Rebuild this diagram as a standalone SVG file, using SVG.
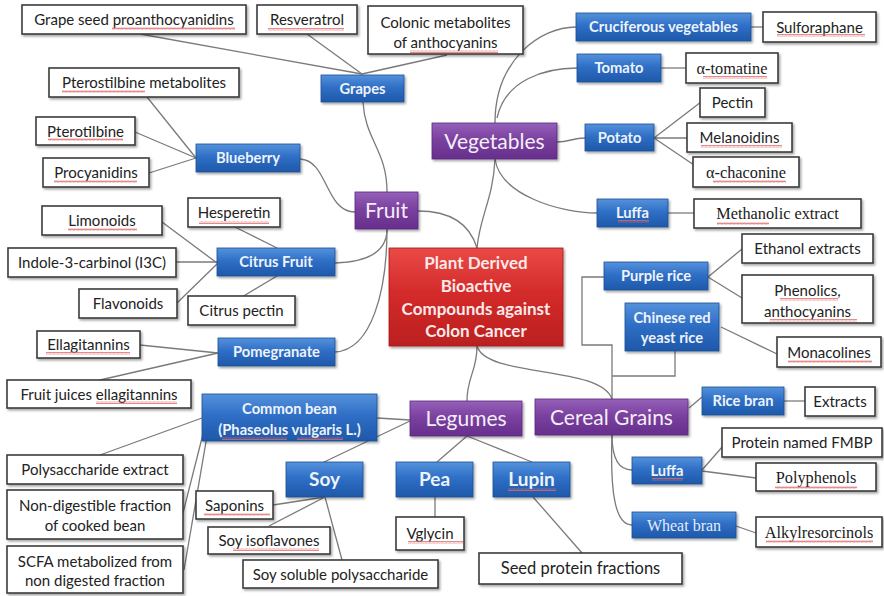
<svg xmlns="http://www.w3.org/2000/svg" width="884" height="596" viewBox="0 0 884 596">
  <defs>
    <style>
      .leaf rect { fill: #ffffff; stroke: #3c3c3c; stroke-width: 1.6; filter: url(#shadow); }
      .leaf text { font-family: Lato, "Liberation Sans", sans-serif; font-size: 15px; fill: #222222; text-anchor: middle; }
      .leaf text.serif { font-family: "Liberation Serif", "DejaVu Serif", serif; font-size: 16.3px; fill: #1a1a1a; }
      .sub rect { fill: url(#blueGrad); stroke: #1d4f96; stroke-width: 0.8; filter: url(#shadow); }
      .sub text { font-family: Lato, "Liberation Sans", sans-serif; font-size: 14.7px; font-weight: bold; fill: #eef3fb; text-anchor: middle; }
      .sub text.big { font-size: 19px; }
      .sub text.serif { font-family: "Liberation Serif", "DejaVu Serif", serif; font-weight: normal; font-size: 16px; fill: #e4ecf8; }
      .cat rect { fill: url(#purpleGrad); stroke: #5a2a7e; stroke-width: 0.8; filter: url(#shadow); }
      .cat text { font-family: Lato, "Liberation Sans", sans-serif; font-size: 21px; fill: #f4eef8; text-anchor: middle; }
      .hub rect { fill: url(#redGrad); stroke: #a51818; stroke-width: 0.8; filter: url(#shadow); }
      .hub text { font-family: Lato, "Liberation Sans", sans-serif; font-size: 17px; font-weight: bold; fill: #fbeaea; text-anchor: middle; }
      #connectors path { fill: none; stroke: #7a7a7a; stroke-width: 1.3; }
      .squiggle { fill: url(#wave); }
    </style>
    <linearGradient id="blueGrad" x1="0" y1="0" x2="0" y2="1">
      <stop offset="0" stop-color="#5592dc"/>
      <stop offset="0.45" stop-color="#2f6fc6"/>
      <stop offset="1" stop-color="#1e58a9"/>
    </linearGradient>
    <linearGradient id="purpleGrad" x1="0" y1="0" x2="0" y2="1">
      <stop offset="0" stop-color="#9561b9"/>
      <stop offset="0.45" stop-color="#7b419f"/>
      <stop offset="1" stop-color="#662f8c"/>
    </linearGradient>
    <linearGradient id="redGrad" x1="0" y1="0" x2="0" y2="1">
      <stop offset="0" stop-color="#ea4a46"/>
      <stop offset="0.45" stop-color="#d42b2a"/>
      <stop offset="1" stop-color="#bb1f1f"/>
    </linearGradient>
    <filter id="shadow" x="-10%" y="-20%" width="125%" height="150%">
      <feDropShadow dx="1.5" dy="1.8" stdDeviation="1.2" flood-color="#000000" flood-opacity="0.35"/>
    </filter>
    <pattern id="wave" width="4" height="3" patternUnits="userSpaceOnUse">
      <path d="M0,2.5 L1,0.6 L2,2.5 L3,0.6 L4,2.5" fill="none" stroke="#e06a6a" stroke-width="0.8"/>
    </pattern>
  </defs>

  <rect width="884" height="596" fill="#ffffff"/>

  <!-- connectors -->
  <g id="connectors">
    <!-- grapes -->
    <path d="M140,34 L362,74"/>
    <path d="M307,34 L362,74"/>
    <path d="M447,55 L362,74"/>
    <path d="M363,102 C365,140 387,150 387,192"/>
    <!-- blueberry -->
    <path d="M147,97 L196,158"/>
    <path d="M135,132 L196,158"/>
    <path d="M149,173 L196,158"/>
    <path d="M300,159 C328,160 325,212 355,212"/>
    <!-- citrus fruit -->
    <path d="M162,222 L217,263"/>
    <path d="M235,227 L277,248"/>
    <path d="M176,262 L217,262"/>
    <path d="M177,303 L217,264"/>
    <path d="M242,297 L277,276"/>
    <path d="M335,263 C370,262 387,250 387,229"/>
    <!-- pomegranate -->
    <path d="M140,345 L218,353"/>
    <path d="M100,380 L218,353"/>
    <path d="M335,352 C372,350 387,290 387,229"/>
    <!-- fruit / vegetables to hub -->
    <path d="M418,211 C452,211 470,225 477,248"/>
    <path d="M495,159 C493,200 480,215 477,248"/>
    <!-- vegetables -->
    <path d="M495,123 C495,60 540,27 576,27"/>
    <path d="M497,118 C505,80 545,68 577,68"/>
    <path d="M557,142 C570,142 572,138 585,138"/>
    <path d="M495,159 C500,195 560,213 597,213"/>
    <path d="M751,27 L763,27"/>
    <path d="M661,68 L686,68"/>
    <path d="M654,138 L701,102"/>
    <path d="M654,138 L687,138"/>
    <path d="M654,138 L697,167"/>
    <path d="M668,213 L694,213"/>
    <!-- hub to legumes / cereal grains -->
    <path d="M477,346 C477,372 467,376 467,401"/>
    <path d="M477,346 C486,378 600,365 612,399"/>
    <!-- cereal grains -->
    <path d="M604,277 H582 V345 H612 V399"/>
    <path d="M675,351 V376 H612"/>
    <path d="M708,277 L742,249"/>
    <path d="M708,277 L742,298"/>
    <path d="M721,327 L777,354"/>
    <path d="M689,408 L702,397"/>
    <path d="M784,401 L805,401"/>
    <path d="M612,435 C612,460 620,470 632,470"/>
    <path d="M612,435 C610,492 615,525 632,525"/>
    <path d="M702,470 L723,446"/>
    <path d="M702,471 L756,478"/>
    <path d="M736,526 L756,533"/>
    <!-- legumes -->
    <path d="M377,418 L410,420"/>
    <path d="M410,421 L322,463"/>
    <path d="M467,436 L437,462"/>
    <path d="M467,436 L532,462"/>
    <path d="M435,497 L435,517"/>
    <path d="M533,497 L582,553"/>
    <!-- common bean -->
    <path d="M202,418 L100,455"/>
    <path d="M204,430 L183,513"/>
    <path d="M207,436 L184,570"/>
    <!-- soy -->
    <path d="M325,497 L273,505"/>
    <path d="M325,497 L269,526"/>
    <path d="M325,497 L342,560"/>
  </g>

  <!-- central topic -->
  <g id="hub" class="hub">
    <rect x="389" y="248" width="174" height="98"/>
    <text x="476" y="269">Plant Derived</text>
    <text x="476" y="292">Bioactive</text>
    <text x="476" y="315">Compounds against</text>
    <text x="476" y="337">Colon Cancer</text>
  </g>

  <!-- categories -->
  <g id="fruit" class="cat"><rect x="355" y="192" width="63" height="37"/><text x="386.5" y="218">Fruit</text></g>
  <g id="vegetables" class="cat"><rect x="432" y="123" width="125" height="36"/><text x="494.5" y="148.5">Vegetables</text></g>
  <g id="legumes" class="cat"><rect x="410" y="401" width="112" height="35"/><text x="466" y="426">Legumes</text></g>
  <g id="cereal-grains" class="cat"><rect x="535" y="399" width="153" height="36"/><text x="611.5" y="424.5">Cereal Grains</text></g>

  <!-- fruit sources -->
  <g id="grapes" class="sub"><rect x="321" y="75" width="83" height="27"/><text x="362.5" y="93.5">Grapes</text></g>
  <g id="blueberry" class="sub"><rect x="196" y="144" width="104" height="28"/><text x="248" y="163">Blueberry</text></g>
  <g id="citrus-fruit" class="sub"><rect x="217" y="248" width="118" height="28"/><text x="276" y="267">Citrus Fruit</text></g>
  <g id="pomegranate" class="sub"><rect x="218" y="338" width="117" height="28"/><text x="276.5" y="357">Pomegranate</text></g>

  <!-- vegetable sources -->
  <g id="cruciferous" class="sub"><rect x="576" y="13" width="175" height="28"/><text x="663.5" y="32">Cruciferous vegetables</text></g>
  <g id="tomato" class="sub"><rect x="577" y="54" width="84" height="28"/><text x="619" y="73">Tomato</text></g>
  <g id="potato" class="sub"><rect x="585" y="124" width="69" height="27"/><text x="619.5" y="142.5">Potato</text></g>
  <g id="luffa-veg" class="sub"><rect x="597" y="199" width="71" height="28"/><text x="632.5" y="218">Luffa</text></g>

  <!-- cereal sources -->
  <g id="purple-rice" class="sub"><rect x="604" y="262" width="104" height="28"/><text x="656" y="281">Purple rice</text></g>
  <g id="red-yeast-rice" class="sub"><rect x="625" y="303" width="94" height="48"/><text x="672" y="323">Chinese red</text><text x="672" y="343">yeast rice</text></g>
  <g id="rice-bran" class="sub"><rect x="702" y="387" width="82" height="28"/><text x="743" y="406">Rice bran</text></g>
  <g id="luffa-cereal" class="sub"><rect x="632" y="457" width="70" height="27"/><text x="667" y="475.5">Luffa</text></g>
  <g id="wheat-bran" class="sub"><rect x="632" y="512" width="104" height="26"/><text class="serif" x="684" y="530.5">Wheat bran</text></g>

  <!-- legume sources -->
  <g id="common-bean" class="sub"><rect x="202" y="394" width="175" height="47"/><text x="289.5" y="414">Common bean</text><text x="289.5" y="435">(Phaseolus vulgaris L.)</text></g>
  <g id="soy" class="sub"><rect x="286" y="462" width="77" height="35"/><text class="big" x="324.5" y="486">Soy</text></g>
  <g id="pea" class="sub"><rect x="396" y="462" width="77" height="35"/><text class="big" x="434.5" y="486">Pea</text></g>
  <g id="lupin" class="sub"><rect x="493" y="462" width="77" height="35"/><text class="big" x="531.5" y="486">Lupin</text></g>

  <!-- compounds: fruit -->
  <g id="grape-seed" class="leaf"><rect x="22" y="5" width="224" height="29"/><text x="134" y="25">Grape seed proanthocyanidins</text></g>
  <g id="resveratrol" class="leaf"><rect x="257" y="5" width="100" height="29"/><text x="307" y="25">Resveratrol</text></g>
  <g id="colonic" class="leaf"><rect x="368" y="6" width="155" height="48"/><text x="445.5" y="28">Colonic metabolites</text><text x="445.5" y="48">of anthocyanins</text></g>
  <g id="pterostilbine-metabolites" class="leaf"><rect x="49" y="68" width="190" height="29"/><text x="144" y="88">Pterostilbine metabolites</text></g>
  <g id="pterotilbine" class="leaf"><rect x="36" y="117" width="99" height="28"/><text x="85.5" y="136.5">Pterotilbine</text></g>
  <g id="procyanidins" class="leaf"><rect x="43" y="158" width="106" height="29"/><text x="96" y="178">Procyanidins</text></g>
  <g id="limonoids" class="leaf"><rect x="42" y="206" width="120" height="29"/><text x="102" y="226">Limonoids</text></g>
  <g id="hesperetin" class="leaf"><rect x="188" y="198" width="92" height="29"/><text x="234" y="218">Hesperetin</text></g>
  <g id="indole" class="leaf"><rect x="8" y="248" width="168" height="29"/><text x="92" y="268">Indole-3-carbinol (I3C)</text></g>
  <g id="flavonoids" class="leaf"><rect x="79" y="289" width="98" height="29"/><text x="128" y="309">Flavonoids</text></g>
  <g id="citrus-pectin" class="leaf"><rect x="188" y="296" width="107" height="29"/><text x="241.5" y="316">Citrus pectin</text></g>
  <g id="ellagitannins" class="leaf"><rect x="37" y="331" width="103" height="27"/><text x="88.5" y="350">Ellagitannins</text></g>
  <g id="fruit-juices" class="leaf"><rect x="7" y="380" width="184" height="28"/><text x="99" y="399.5">Fruit juices ellagitannins</text></g>

  <!-- compounds: legumes -->
  <g id="polysaccharide-extract" class="leaf"><rect x="7" y="455" width="176" height="29"/><text x="95" y="475">Polysaccharide extract</text></g>
  <g id="non-digestible" class="leaf"><rect x="7" y="490" width="176" height="49"/><text x="95" y="511">Non-digestible fraction</text><text x="95" y="531">of cooked bean</text></g>
  <g id="scfa" class="leaf"><rect x="7" y="546" width="176" height="47"/><text x="95" y="567">SCFA metabolized from</text><text x="95" y="586">non digested fraction</text></g>
  <g id="saponins" class="leaf"><rect x="196" y="491" width="77" height="28"/><text x="234.5" y="510.5">Saponins</text></g>
  <g id="soy-isoflavones" class="leaf"><rect x="208" y="527" width="122" height="27"/><text x="269" y="546">Soy isoflavones</text></g>
  <g id="soy-polysaccharide" class="leaf"><rect x="243" y="560" width="195" height="28"/><text x="340.5" y="579.5">Soy soluble polysaccharide</text></g>
  <g id="vglycin" class="leaf"><rect x="396" y="517" width="68" height="33"/><text x="430" y="539">Vglycin</text></g>
  <g id="seed-protein" class="leaf"><rect x="479" y="553" width="203" height="31"/><text x="580.5" y="574" style="font-size:16.5px">Seed protein fractions</text></g>

  <!-- compounds: vegetables -->
  <g id="sulforaphane" class="leaf"><rect x="763" y="12" width="113" height="30"/><text x="819.5" y="32.5">Sulforaphane</text></g>
  <g id="tomatine" class="leaf"><rect x="686" y="53" width="92" height="30"/><text class="serif" x="732" y="73.5">α-tomatine</text></g>
  <g id="pectin" class="leaf"><rect x="700" y="88" width="65" height="29"/><text x="732.5" y="108">Pectin</text></g>
  <g id="melanoidins" class="leaf"><rect x="687" y="123" width="105" height="29"/><text x="739.5" y="143">Melanoidins</text></g>
  <g id="chaconine" class="leaf"><rect x="693" y="157" width="106" height="30"/><text class="serif" x="746" y="177.5">α-chaconine</text></g>
  <g id="methanolic" class="leaf"><rect x="694" y="199" width="167" height="29"/><text class="serif" x="777.5" y="219">Methanolic extract</text></g>

  <!-- compounds: cereal grains -->
  <g id="ethanol-extracts" class="leaf"><rect x="742" y="234" width="131" height="29"/><text x="807.5" y="254">Ethanol extracts</text></g>
  <g id="phenolics" class="leaf"><rect x="742" y="275" width="131" height="48"/><text x="807.5" y="296">Phenolics,</text><text x="807.5" y="317">anthocyanins</text></g>
  <g id="monacolines" class="leaf"><rect x="777" y="337" width="104" height="30"/><text x="829" y="357.5">Monacolines</text></g>
  <g id="extracts" class="leaf"><rect x="805" y="387" width="70" height="29"/><text x="840" y="407">Extracts</text></g>
  <g id="fmbp" class="leaf"><rect x="722" y="428" width="160" height="29"/><text x="802" y="448">Protein named FMBP</text></g>
  <g id="polyphenols" class="leaf"><rect x="756" y="463" width="120" height="28"/><text class="serif" x="816" y="482.5">Polyphenols</text></g>
  <g id="alkylresorcinols" class="leaf"><rect x="756" y="517" width="126" height="30"/><text class="serif" x="819" y="537.5">Alkylresorcinols</text></g>

  <!-- spell-check style wavy underlines -->
  <g id="underlines">
    <rect class="squiggle" x="112" y="27" width="123" height="3"/>
    <rect class="squiggle" x="268" y="28" width="76" height="3"/>
    <rect class="squiggle" x="410" y="50" width="88" height="3"/>
    <rect class="squiggle" x="62" y="90" width="83" height="3"/>
    <rect class="squiggle" x="48" y="138" width="75" height="3"/>
    <rect class="squiggle" x="54" y="180" width="83" height="3"/>
    <rect class="squiggle" x="68" y="228" width="69" height="3"/>
    <rect class="squiggle" x="199" y="221" width="70" height="3"/>
    <rect class="squiggle" x="46" y="352" width="84" height="3"/>
    <rect class="squiggle" x="96" y="401" width="81" height="3"/>
    <rect class="squiggle" x="777" y="34" width="88" height="3"/>
    <rect class="squiggle" x="703" y="76" width="64" height="3"/>
    <rect class="squiggle" x="701" y="145" width="81" height="3"/>
    <rect class="squiggle" x="713" y="180" width="73" height="3"/>
    <rect class="squiggle" x="717" y="222" width="52" height="3"/>
    <rect class="squiggle" x="618" y="220" width="31" height="3"/>
    <rect class="squiggle" x="780" y="298" width="58" height="3"/>
    <rect class="squiggle" x="770" y="319" width="87" height="3"/>
    <rect class="squiggle" x="788" y="360" width="84" height="3"/>
    <rect class="squiggle" x="652" y="478" width="31" height="3"/>
    <rect class="squiggle" x="775" y="486" width="82" height="3"/>
    <rect class="squiggle" x="766" y="540" width="107" height="3"/>
    <rect class="squiggle" x="222" y="437" width="65" height="3"/>
    <rect class="squiggle" x="297" y="437" width="46" height="3"/>
    <rect class="squiggle" x="508" y="488" width="48" height="3"/>
    <rect class="squiggle" x="408" y="541" width="55" height="3"/>
    <rect class="squiggle" x="204" y="513" width="66" height="3"/>
    <rect class="squiggle" x="233" y="548" width="86" height="3"/>
  </g>
</svg>
